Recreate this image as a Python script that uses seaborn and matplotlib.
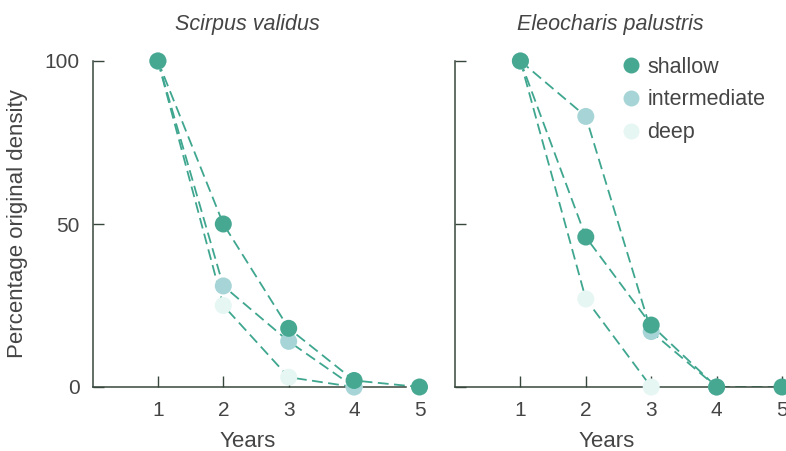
import matplotlib
matplotlib.use("Agg")
import matplotlib.pyplot as plt
from matplotlib.lines import Line2D
import pandas as pd
import seaborn as sns

# Percentage of original stem density remaining after each year, by water depth
years = [1, 2, 3, 4, 5]

scirpus_shallow = [100, 50, 18, 2, 0]
scirpus_intermediate = [100, 31, 14, 0]
scirpus_deep = [100, 25, 3, 0]

eleocharis_shallow = [100, 46, 19, 0, 0]
eleocharis_intermediate = [100, 83, 17, 0]
eleocharis_deep = [100, 27, 0]

depths = ["shallow", "intermediate", "deep"]
species = ["Scirpus validus", "Eleocharis palustris"]
yticks = [0, 50, 100]
xticks = [1, 2, 3, 4, 5]

colors = {"shallow": "#47a892", "intermediate": "#a7d5d7", "deep": "#e5f6f3"}
line_color = "#3fa68f"
spine_color = "#37473c"
text_color = "#454545"


def long_table(series):
    rows = []
    for depth, vals in zip(depths, series):
        for yr, v in zip(years, vals):
            rows.append({"year": yr, "pct": v, "depth": depth})
    return pd.DataFrame(rows)


tables = [
    long_table([scirpus_shallow, scirpus_intermediate, scirpus_deep]),
    long_table([eleocharis_shallow, eleocharis_intermediate, eleocharis_deep]),
]

sns.set_theme(style="white")
plt.rcParams["font.family"] = ["Liberation Sans", "DejaVu Sans"]

fig = plt.figure(figsize=(7.86, 4.51), dpi=100)
fig.patch.set_facecolor("white")

bottom = (451 - 387) / 451
height = (387 - 61) / 451
ax_left = fig.add_axes([92.5 / 786, bottom, 327 / 786, height])
ax_right = fig.add_axes([455 / 786, bottom, 327 / 786, height])
axes = [ax_left, ax_right]
spine_end = [4.8, 5.0]
title_x = [0.475, 0.474]

for i, (ax, df) in enumerate(zip(axes, tables)):
    sns.lineplot(
        data=df, x="year", y="pct", hue="depth",
        palette={d: line_color for d in depths},
        estimator=None, sort=False, legend=False, ax=ax,
        linestyle=(0, (6, 3)), linewidth=1.3, zorder=2,
    )
    for depth in ["deep", "intermediate", "shallow"]:
        sub = df[df["depth"] == depth]
        sns.scatterplot(
            data=sub, x="year", y="pct", color=colors[depth],
            s=150, edgecolor="none", linewidth=0, legend=False,
            ax=ax, zorder=3, clip_on=False,
        )
    ax.set_xticks(xticks)
    ax.set_xticklabels([str(t) for t in xticks])
    ax.set_yticks(yticks)
    ax.set_xlim(0, 5.0)
    ax.set_ylim(0, 100)
    ax.set_facecolor("none")
    for side in ["top", "right"]:
        ax.spines[side].set_visible(False)
    for side in ["left", "bottom"]:
        ax.spines[side].set_color(spine_color)
        ax.spines[side].set_linewidth(1.1)
    ax.spines["bottom"].set_bounds(0, spine_end[i])
    ax.tick_params(axis="both", direction="in", length=8, width=1.0,
                   color=spine_color, labelsize=15, labelcolor=text_color,
                   bottom=True, left=True)
    ax.tick_params(axis="x", pad=10)
    ax.tick_params(axis="y", pad=9)
    ax.set_xlabel("Years", fontsize=16, color=text_color, labelpad=3)
    ax.set_title(species[i], fontsize=15.5, style="italic", color=text_color,
                 pad=22, x=title_x[i])

# no tick mark at year 5 on the left panel, where the axis line stops short
ax_left.xaxis.get_major_ticks()[-1].tick1line.set_visible(False)

ax_left.set_ylabel("Percentage original density", fontsize=16,
                   color=text_color, labelpad=12)
ax_left.set_yticklabels([str(t) for t in yticks])
ax_right.set_ylabel("")
ax_right.set_yticklabels([])
ax_left.xaxis.set_label_coords((248 - 92.5) / 327, -0.135)
ax_right.xaxis.set_label_coords((607 - 455) / 327, -0.135)

handles = [
    Line2D([], [], linestyle="none", marker="o", markersize=11.5,
           markerfacecolor=colors[d], markeredgecolor="none", label=d)
    for d in depths
]
ax_right.legend(handles=handles, loc="upper left",
                bbox_to_anchor=((601 - 455) / 327, 1.073), frameon=False,
                fontsize=15.5, handletextpad=0.25, labelspacing=0.55,
                handlelength=1.0, labelcolor=text_color)

fig.savefig("out.png", dpi=100, facecolor="white")
